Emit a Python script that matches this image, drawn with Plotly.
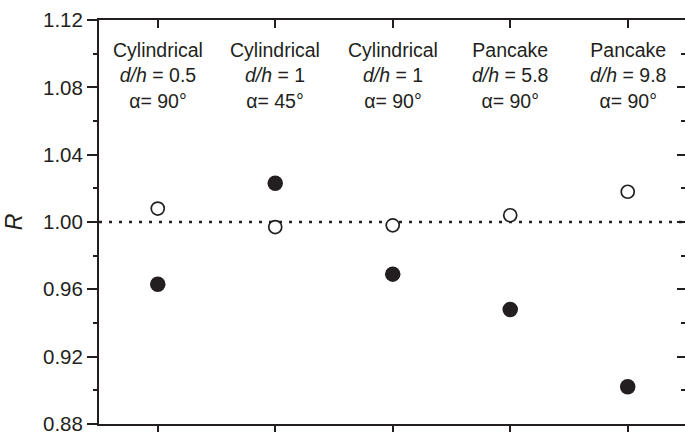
import plotly.graph_objects as go

# ---- data ----
categories = [1, 2, 3, 4, 5]
cat_labels = [
    "Cylindrical<br><i>d/h</i> = 0.5<br>α= 90°",
    "Cylindrical<br><i>d/h</i> = 1<br>α= 45°",
    "Cylindrical<br><i>d/h</i> = 1<br>α= 90°",
    "Pancake<br><i>d/h</i> = 5.8<br>α= 90°",
    "Pancake<br><i>d/h</i> = 9.8<br>α= 90°",
]
open_values = [1.008, 0.997, 0.998, 1.004, 1.018]
filled_values = [0.963, 1.023, 0.969, 0.948, 0.902]
reference_value = 1.00
y_tickvals = [0.88, 0.92, 0.96, 1.00, 1.04, 1.08, 1.12]
y_ticktext = ["0.88", "0.92", "0.96", "1.00", "1.04", "1.08", "1.12"]

INK = "#231f20"
FONT = "Liberation Sans, Arial, Helvetica, sans-serif"

fig = go.Figure()

# reference dotted line
fig.add_trace(go.Scatter(
    x=[0.5, 5.5], y=[reference_value, reference_value], mode="lines",
    line=dict(color=INK, width=2.5, dash="3px,7px"),
    hoverinfo="skip", showlegend=False,
))

fig.add_trace(go.Scatter(
    x=categories, y=filled_values, mode="markers",
    marker=dict(symbol="circle", size=15.5, color=INK, line=dict(width=0)),
    showlegend=False,
))
fig.add_trace(go.Scatter(
    x=categories, y=open_values, mode="markers",
    marker=dict(symbol="circle", size=13, color="white",
                line=dict(width=1.7, color=INK)),
    showlegend=False,
))
# invisible trace to anchor the mirrored axes
fig.add_trace(go.Scatter(
    x=[categories[0]], y=[reference_value], xaxis="x2", yaxis="y2",
    mode="markers", marker=dict(opacity=0), hoverinfo="skip", showlegend=False,
))

xr = [0.5, 5.4875]
yr = [0.8799, 1.1201]

for cx, lab in zip(categories, cat_labels):
    fig.add_annotation(
        x=cx, y=0.8614, xref="x", yref="paper", text=lab, showarrow=False,
        xanchor="center", yanchor="middle", align="center",
        font=dict(family=FONT, size=19.5, color=INK),
    )

fig.update_layout(
    width=685, height=432,
    margin=dict(l=99, r=0, t=20, b=8, autoexpand=False),
    paper_bgcolor="white", plot_bgcolor="white",
    font=dict(family=FONT, size=19, color=INK),
    xaxis=dict(
        range=xr, showgrid=False, zeroline=False, automargin=False,
        showline=True, linecolor=INK, linewidth=1.5,
        tickvals=categories, showticklabels=False,
        ticks="outside", ticklen=8, tickwidth=1.5, tickcolor=INK,
    ),
    xaxis2=dict(
        range=xr, overlaying="x", side="top", anchor="y", automargin=False,
        showgrid=False, zeroline=False,
        showline=True, linecolor=INK, linewidth=1.5,
        tickvals=categories, showticklabels=False,
        ticks="inside", ticklen=8, tickwidth=1.5, tickcolor=INK,
    ),
    yaxis=dict(
        range=yr, showgrid=False, zeroline=False, automargin=False,
        showline=True, linecolor=INK, linewidth=2,
        tickvals=y_tickvals, ticktext=y_ticktext,
        ticklabeloverflow="allow",
        ticks="outside", ticklen=10, tickwidth=1.5, tickcolor=INK,
        tickfont=dict(family=FONT, size=20.5, color=INK),
        minor=dict(dtick=0.02, tick0=0.88, ticks="outside", ticklen=4,
                   tickwidth=1.5, tickcolor=INK, showgrid=False),
        title=dict(text="<i>R</i>", font=dict(family=FONT, size=23, color=INK),
                   standoff=14),
    ),
    yaxis2=dict(
        range=yr, overlaying="y", side="right", anchor="x", automargin=False,
        showgrid=False, zeroline=False, showline=False,
        tickvals=y_tickvals, showticklabels=False,
        ticks="inside", ticklen=8, tickwidth=1.5, tickcolor=INK,
        minor=dict(dtick=0.02, tick0=0.88, ticks="inside", ticklen=4,
                   tickwidth=1.5, tickcolor=INK, showgrid=False),
    ),
)

fig.write_html("out.html")
